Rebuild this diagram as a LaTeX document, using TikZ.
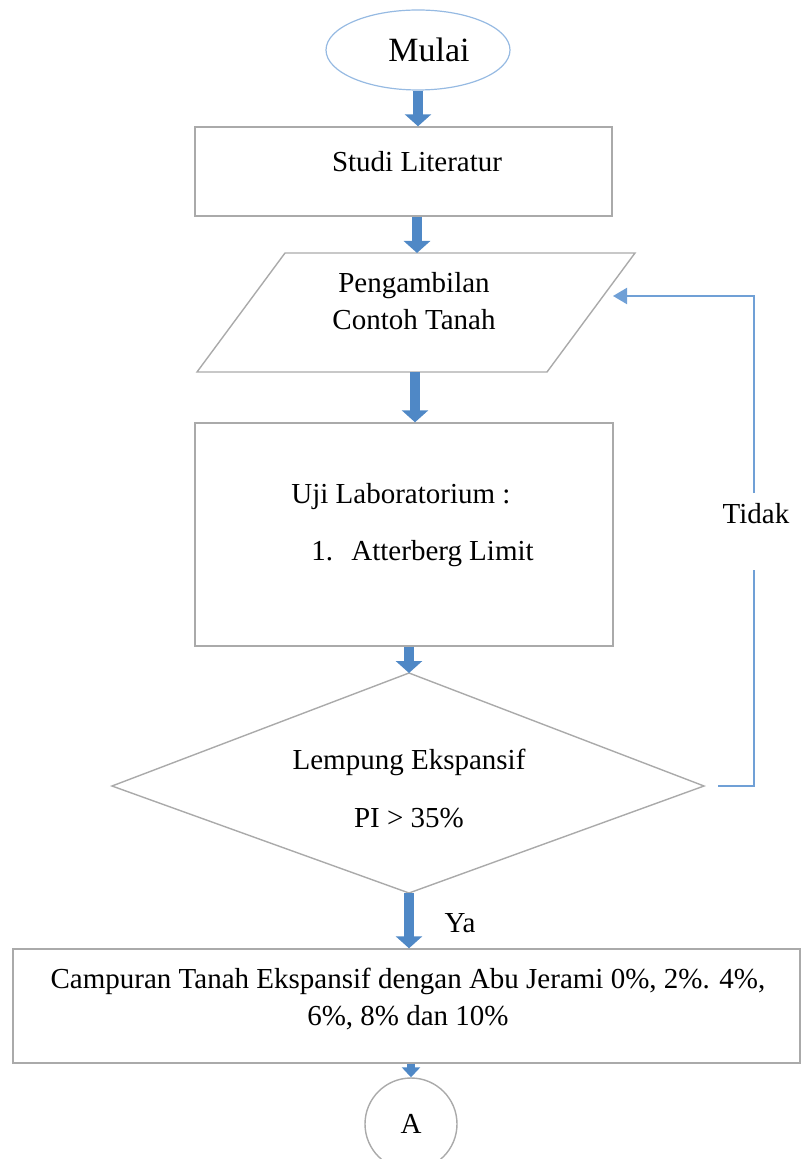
\documentclass[tikz,border=0pt]{standalone}
\usepackage{fontspec}
\setmainfont{Liberation Serif}
\usepackage{tikz}
\usetikzlibrary{arrows.meta, shapes.geometric}
\definecolor{arrblue}{RGB}{79,136,198}
\definecolor{lineblue}{RGB}{112,160,214}
\definecolor{ellblue}{RGB}{150,186,226}
\definecolor{edgegray}{RGB}{170,170,170}

\begin{document}
\begin{tikzpicture}[x=0.5pt, y=-0.5pt,
	every node/.style={font=\fontsize{14.5}{18.5}\selectfont, inner sep=0pt},
	shp/.style={draw=edgegray, line width=0.7pt},
	fat/.style={arrblue, line width=5pt, -{Triangle[width=13pt, length=6pt]}},
	slimarrow/.style={arrblue, line width=4pt, -{Triangle[width=9pt, length=5pt]}},
	loopline/.style={lineblue, line width=1pt}]
	\useasboundingbox (0,0) rectangle (802,1159);

	\node[ellipse, draw=ellblue, line width=0.6pt, minimum width=92pt, minimum height=40pt] (mulai) at (418,50) {};
	\node[font=\fontsize{17}{20}\selectfont] (mulai-t) at (429,50) {Mulai};

	\node[shp, rectangle, minimum width=208.5pt, minimum height=44.5pt] (studi) at (403.5,171.5) {};
	\node (studi-t) at (417,162) {Studi Literatur};

	\coordinate (P1) at (285,253); \coordinate (P2) at (635,253);
	\coordinate (P3) at (547,372); \coordinate (P4) at (197,372);
	\coordinate (ambil-s) at (415,372); \coordinate (loop-in) at (613,296);
	\draw[shp] (P1) -- (P2) -- (P3) -- (P4) -- cycle;
	\node[align=center] (ambil) at (414,301.5) {Pengambilan\\Contoh Tanah};

	\node[shp, rectangle, minimum width=209pt, minimum height=111.5pt] (uji) at (404,534.5) {};
	\node[anchor=mid west] (uji-t) at (291,499) {Uji Laboratorium :};
	\node[anchor=mid west] (uji-n) at (311,556) {1.};
	\node[anchor=mid west] (uji-a) at (351,556) {Atterberg Limit};

	\coordinate (D-t) at (409,673); \coordinate (D-r) at (704,786);
	\coordinate (D-b) at (409,893); \coordinate (D-l) at (112,786);
	\draw[shp] (D-t) -- (D-r) -- (D-b) -- (D-l) -- cycle;
	\node[align=center] (lempung) at (409,788) {Lempung Ekspansif\\[10.5pt]PI > 35\%};

	\node[shp, rectangle, minimum width=393.5pt, minimum height=57pt] (campur) at (406.5,1006) {};
	\node[align=center] (campur-t) at (408,999) {Campuran Tanah Ekspansif dengan Abu Jerami 0\%, 2\%. 4\%,\\6\%, 8\% dan 10\%};

	\node[shp, circle, minimum size=46pt] (A) at (411,1124) {A};

	\node (tidak) at (756,514) {Tidak};
	\coordinate (gap-hi) at (754,493); \coordinate (gap-lo) at (754,570);
	\node (ya) at (460,923) {Ya};

	\draw[fat] (mulai.south) -- (mulai.south |- studi.north);
	\draw[fat] (studi-t.south |- studi.south) -- (studi-t.south |- P1);
	\draw[fat] (ambil-s) -- (ambil-s |- uji.north);
	\draw[fat] (D-t |- uji.south) -- (D-t);
	\draw[fat] (D-b) -- (D-b |- campur.north);
	\draw[slimarrow] (A.north |- campur.south) -- (A.north);

	\draw[loopline] ([xshift=7pt]D-r) -| (gap-lo);
	\draw[loopline, -{Triangle[width=8pt, length=7pt]}] (gap-hi) |- (loop-in);
\end{tikzpicture}
\end{document}
